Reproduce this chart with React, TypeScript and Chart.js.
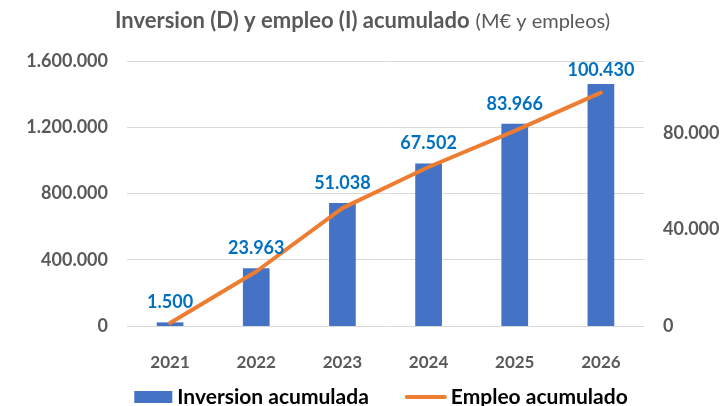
import React, { useEffect, useRef } from "react";
import { Chart, registerables } from "chart.js";

Chart.register(...registerables);

const years = ["2021", "2022", "2023", "2024", "2025", "2026"];
const inversion = [1500, 23963, 51038, 67502, 83966, 100430];
const empleo = [18000, 329000, 712000, 960000, 1178000, 1409000];
const leftTicks = [0, 400000, 800000, 1200000, 1600000];
const rightTicks = [0, 40000, 80000];
const titleBold = "Inversion (D) y empleo (I) acumulado";
const titleNormal = "(M€ y empleos)";
const legendBar = "Inversion acumulada";
const legendLine = "Empleo acumulado";

const FONT = "Lato";
const GRAY = "#595959";
const BLUE = "#4472C4";
const ORANGE = "#ED7D31";
const LABEL_BLUE = "#0070C0";

const fmt = (v: number) =>
  String(Math.round(v)).replace(/\B(?=(\d{3})+(?!\d))/g, ".");

const titlePlugin = {
  id: "customTitle",
  afterDraw(chart: any) {
    const ctx = chart.ctx;
    ctx.save();
    const bFont = `bold 22px ${FONT}`;
    const nFont = `20px ${FONT}`;
    ctx.font = bFont;
    const wb = ctx.measureText(titleBold).width;
    ctx.font = nFont;
    const wn = ctx.measureText(titleNormal).width;
    const gap = 6;
    const total = wb + gap + wn;
    const x0 = chart.width / 2 - total / 2;
    const y = 21;
    ctx.textBaseline = "middle";
    ctx.textAlign = "left";
    ctx.fillStyle = GRAY;
    ctx.font = bFont;
    ctx.fillText(titleBold, x0, y);
    ctx.font = nFont;
    ctx.fillText(titleNormal, x0 + wb + gap, y + 1);
    ctx.restore();
  },
};

const labelsPlugin = {
  id: "barLabels",
  afterDatasetsDraw(chart: any) {
    const ctx = chart.ctx;
    const meta = chart.getDatasetMeta(1);
    ctx.save();
    ctx.font = `bold 18px ${FONT}`;
    ctx.fillStyle = LABEL_BLUE;
    ctx.textAlign = "center";
    ctx.textBaseline = "middle";
    meta.data.forEach((el: any, i: number) => {
      const y = Math.max(el.y - 20, 70);
      ctx.fillText(fmt(inversion[i]), el.x, y);
    });
    ctx.restore();
  },
};

const legendPlugin = {
  id: "customLegend",
  afterDraw(chart: any) {
    const ctx = chart.ctx;
    ctx.save();
    const font = `bold 21px ${FONT}`;
    ctx.font = font;
    const w1 = ctx.measureText(legendBar).width;
    const w2 = ctx.measureText(legendLine).width;
    const boxW = 38;
    const lineW = 42;
    const total = boxW + 5 + w1 + 36 + lineW + 4 + w2;
    let x = 381 - total / 2;
    const y = 397;
    ctx.fillStyle = BLUE;
    ctx.fillRect(x, y - 6, boxW, 12);
    x += boxW + 5;
    ctx.fillStyle = "#000000";
    ctx.textBaseline = "middle";
    ctx.textAlign = "left";
    ctx.fillText(legendBar, x, y);
    x += w1 + 36;
    ctx.strokeStyle = ORANGE;
    ctx.lineWidth = 4;
    ctx.lineCap = "round";
    ctx.beginPath();
    ctx.moveTo(x + 2, y);
    ctx.lineTo(x + lineW - 2, y);
    ctx.stroke();
    x += lineW + 4;
    ctx.fillText(legendLine, x, y);
    ctx.restore();
  },
};

export default function App() {
  const ref = useRef<HTMLCanvasElement | null>(null);
  useEffect(() => {
    if (!ref.current) return;
    const tickFont = { family: FONT, size: 18, weight: "bold" as const };
    const chart = new Chart(ref.current, {
      type: "bar",
      data: {
        labels: years,
        datasets: [
          {
            type: "line",
            label: legendLine,
            data: empleo,
            yAxisID: "y",
            borderColor: ORANGE,
            backgroundColor: ORANGE,
            borderWidth: 4,
            pointRadius: 0,
            borderCapStyle: "round",
            borderJoinStyle: "round",
            tension: 0,
            order: 0,
          } as any,
          {
            type: "bar",
            label: legendBar,
            data: inversion,
            yAxisID: "y1",
            backgroundColor: BLUE,
            barPercentage: 0.31,
            categoryPercentage: 1,
            order: 1,
          } as any,
        ],
      },
      options: {
        responsive: false,
        animation: false,
        layout: { padding: { top: 61, left: 0, right: 0, bottom: 0 } },
        plugins: {
          legend: { display: false },
          title: { display: false },
          tooltip: { enabled: false },
        },
        scales: {
          x: {
            grid: { display: false },
            border: { display: false },
            ticks: { font: { family: FONT, size: 17, weight: "bold" }, color: GRAY, padding: 18 },
            afterFit: (s: any) => {
              s.height = 80;
            },
          },
          y: {
            position: "left",
            min: 0,
            max: leftTicks[leftTicks.length - 1],
            afterBuildTicks: (s: any) => {
              s.ticks = leftTicks.map((v) => ({ value: v }));
            },
            ticks: { font: tickFont, color: GRAY, padding: 19, callback: (v: any) => fmt(Number(v)) },
            grid: { color: "#D9D9D9", drawTicks: false, lineWidth: 1 },
            border: { display: false },
            afterFit: (s: any) => {
              s.width = 127;
            },
          },
          y1: {
            position: "right",
            min: 0,
            max: 110000,
            afterBuildTicks: (s: any) => {
              s.ticks = rightTicks.map((v) => ({ value: v }));
            },
            ticks: { font: tickFont, color: GRAY, padding: 19, callback: (v: any) => fmt(Number(v)) },
            grid: { display: false, drawTicks: false },
            border: { display: false },
            afterFit: (s: any) => {
              s.width = 81;
            },
          },
        },
      } as any,
      plugins: [titlePlugin, labelsPlugin, legendPlugin],
    });
    return () => chart.destroy();
  }, []);
  return (
    <div style={{ position: "fixed", left: 0, top: 0, width: 725, height: 406, background: "#fff" }}>
      <canvas ref={ref} width={725} height={406} style={{ display: "block" }} />
    </div>
  );
}
